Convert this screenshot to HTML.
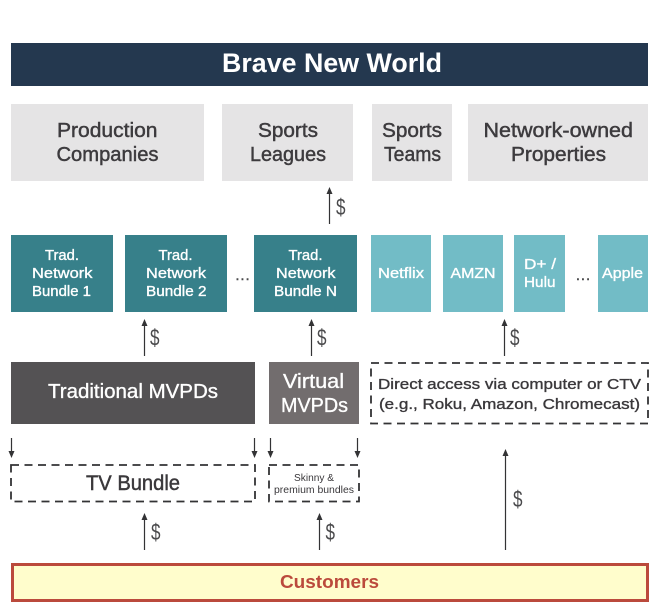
<!DOCTYPE html>
<html>
<head>
<meta charset="utf-8">
<style>
html,body{margin:0;padding:0;background:#fff;width:660px;height:606px;overflow:hidden}
svg{display:block}
text{font-family:"Liberation Sans",sans-serif;text-anchor:start}
.g{fill:#3d3b3e;font-size:20px;stroke:#3d3b3e;stroke-width:.45}
.w{fill:#fff;stroke:#fff;stroke-width:.35}
.t{font-size:15px}
.m{font-size:20px}
.d{fill:#3a383b;font-size:15px;stroke:#3a383b;stroke-width:.35}
.s{fill:#4a4a4c;font-size:23px;font-weight:400}
.dots{fill:#4a4a4c;font-size:14px;stroke:#4a4a4c;stroke-width:.5}
</style>
</head>
<body>
<svg width="660" height="606" viewBox="0 0 660 606" xmlns="http://www.w3.org/2000/svg">
<rect width="660" height="606" fill="#fff"/>

<rect x="11" y="43" width="637" height="43" fill="#24384f"/>
<text x="222" y="72" textLength="220" lengthAdjust="spacingAndGlyphs" font-size="27" font-weight="700" fill="#fff">Brave New World</text>

<g fill="#e5e4e5">
<rect x="11" y="104" width="193" height="77"/>
<rect x="222" y="104" width="131" height="77"/>
<rect x="372" y="104" width="80" height="77"/>
<rect x="468" y="104" width="180" height="77"/>
</g>
<text class="g" x="57" y="137" textLength="100.5" lengthAdjust="spacingAndGlyphs">Production</text>
<text class="g" x="56.5" y="161" textLength="102" lengthAdjust="spacingAndGlyphs">Companies</text>
<text class="g" x="258" y="137" textLength="60" lengthAdjust="spacingAndGlyphs">Sports</text>
<text class="g" x="250" y="161" textLength="76" lengthAdjust="spacingAndGlyphs">Leagues</text>
<text class="g" x="382" y="137" textLength="60" lengthAdjust="spacingAndGlyphs">Sports</text>
<text class="g" x="384" y="161" textLength="57" lengthAdjust="spacingAndGlyphs">Teams</text>
<text class="g" x="483.5" y="137" textLength="149.5" lengthAdjust="spacingAndGlyphs">Network-owned</text>
<text class="g" x="511" y="161" textLength="95" lengthAdjust="spacingAndGlyphs">Properties</text>

<g fill="#37808a">
<rect x="11" y="235" width="102" height="77"/>
<rect x="125" y="235" width="102" height="77"/>
<rect x="254" y="235" width="103" height="77"/>
</g>
<g fill="#72bcc6">
<rect x="371" y="235" width="60" height="77"/>
<rect x="443" y="235" width="60" height="77"/>
<rect x="514" y="235" width="51" height="77"/>
<rect x="598" y="235" width="50" height="77"/>
</g>
<text class="w t" x="45" y="260" textLength="34" lengthAdjust="spacingAndGlyphs">Trad.</text>
<text class="w t" x="32" y="278" textLength="60.5" lengthAdjust="spacingAndGlyphs">Network</text>
<text class="w t" x="32" y="296" textLength="59" lengthAdjust="spacingAndGlyphs">Bundle 1</text>
<text class="w t" x="158.5" y="260" textLength="34" lengthAdjust="spacingAndGlyphs">Trad.</text>
<text class="w t" x="146" y="278" textLength="60" lengthAdjust="spacingAndGlyphs">Network</text>
<text class="w t" x="146" y="296" textLength="60.5" lengthAdjust="spacingAndGlyphs">Bundle 2</text>
<text class="w t" x="288.5" y="260" textLength="34" lengthAdjust="spacingAndGlyphs">Trad.</text>
<text class="w t" x="276" y="278" textLength="59.5" lengthAdjust="spacingAndGlyphs">Network</text>
<text class="w t" x="274" y="296" textLength="63" lengthAdjust="spacingAndGlyphs">Bundle N</text>
<text class="w t" x="378" y="278" textLength="46" lengthAdjust="spacingAndGlyphs">Netflix</text>
<text class="w t" x="450.5" y="278" textLength="45" lengthAdjust="spacingAndGlyphs">AMZN</text>
<text class="w t" x="524" y="269" textLength="32" lengthAdjust="spacingAndGlyphs">D+ /</text>
<text class="w t" x="524" y="287" textLength="31.5" lengthAdjust="spacingAndGlyphs">Hulu</text>
<text class="w t" x="602" y="278" textLength="41" lengthAdjust="spacingAndGlyphs">Apple</text>
<text class="dots" x="235.5" y="280" textLength="14" lengthAdjust="spacing">...</text>
<text class="dots" x="576" y="280" textLength="14" lengthAdjust="spacing">...</text>

<rect x="11" y="362" width="244" height="62" fill="#545254"/>
<rect x="269" y="362" width="90" height="62" fill="#726d6e"/>
<text class="w m" x="48" y="398" textLength="170" lengthAdjust="spacingAndGlyphs">Traditional MVPDs</text>
<text class="w m" x="283" y="388" textLength="61" lengthAdjust="spacingAndGlyphs">Virtual</text>
<text class="w m" x="281" y="412" textLength="67" lengthAdjust="spacingAndGlyphs">MVPDs</text>

<g fill="none" stroke="#333335" stroke-width="1.8" stroke-dasharray="8 5.5">
<rect x="371" y="363" width="277" height="60.5"/>
<rect x="11" y="465" width="244" height="36.5"/>
<rect x="269" y="465" width="90" height="36.5"/>
</g>
<text class="d" x="378" y="389" textLength="263" lengthAdjust="spacingAndGlyphs">Direct access via computer or CTV</text>
<text class="d" x="379" y="409" textLength="261" lengthAdjust="spacingAndGlyphs">(e.g., Roku, Amazon, Chromecast)</text>
<text x="86" y="490" textLength="94" lengthAdjust="spacingAndGlyphs" font-size="21" fill="#3a383b" stroke="#3a383b" stroke-width=".45">TV Bundle</text>
<text x="294" y="481" textLength="40" lengthAdjust="spacingAndGlyphs" font-size="10" fill="#3a383b">Skinny &amp;</text>
<text x="274" y="493" textLength="80" lengthAdjust="spacingAndGlyphs" font-size="10" fill="#3a383b">premium bundles</text>

<rect x="12.5" y="564.5" width="635" height="36" fill="#fffdcc" stroke="#bb4a3c" stroke-width="3"/>
<text x="280" y="588" textLength="99" lengthAdjust="spacingAndGlyphs" font-size="18" font-weight="700" fill="#bb4a3c">Customers</text>

<g stroke="#333335" stroke-width="1.2" fill="none">
<path d="M329.5 192V224"/>
<path d="M144.5 324V356"/>
<path d="M311.5 324V356"/>
<path d="M504.5 324V356"/>
<path d="M144.5 518V550"/>
<path d="M319.5 518V550"/>
<path d="M505.5 454V550"/>
<path d="M11.5 438V452"/>
<path d="M254.5 438V452"/>
<path d="M270.5 438V452"/>
<path d="M357.5 438V452"/>
</g>
<g fill="#333335">
<path d="M329.5 187l3 7h-6z"/>
<path d="M144.5 319l3 7h-6z"/>
<path d="M311.5 319l3 7h-6z"/>
<path d="M504.5 319l3 7h-6z"/>
<path d="M144.5 513l3 7h-6z"/>
<path d="M319.5 513l3 7h-6z"/>
<path d="M505.5 449l3 7h-6z"/>
<path d="M11.5 458l3 -7h-6z"/>
<path d="M254.5 458l3 -7h-6z"/>
<path d="M270.5 458l3 -7h-6z"/>
<path d="M357.5 458l3 -7h-6z"/>
</g>
<text class="s" x="336" y="215" textLength="9.5" lengthAdjust="spacingAndGlyphs">$</text>
<text class="s" x="150" y="345.5" textLength="9.5" lengthAdjust="spacingAndGlyphs">$</text>
<text class="s" x="317" y="345.5" textLength="9.5" lengthAdjust="spacingAndGlyphs">$</text>
<text class="s" x="510" y="345.5" textLength="9.5" lengthAdjust="spacingAndGlyphs">$</text>
<text class="s" x="151" y="540" textLength="9.5" lengthAdjust="spacingAndGlyphs">$</text>
<text class="s" x="325.5" y="540" textLength="9.5" lengthAdjust="spacingAndGlyphs">$</text>
<text class="s" x="513" y="507" textLength="9.5" lengthAdjust="spacingAndGlyphs">$</text>
</svg>
</body>
</html>
